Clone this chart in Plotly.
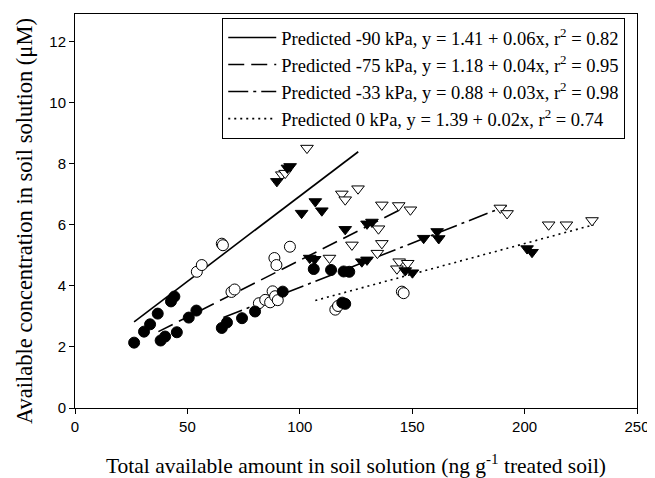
import plotly.graph_objects as go

# ---- data ----
filled_circle_x = [26.3, 30.7, 33.4, 36.8, 42.7, 44.2, 38.1, 40.1, 45.3, 50.6, 54.0, 65.3, 67.6, 74.3, 80.1,
                   92.4, 106.2, 113.9, 119.5, 122.0, 118.9, 120.2]
filled_circle_y = [2.14, 2.50, 2.74, 3.09, 3.49, 3.65, 2.21, 2.34, 2.48, 2.96, 3.19, 2.62, 2.80, 2.94, 3.16,
                   3.81, 4.55, 4.52, 4.47, 4.46, 3.45, 3.41]

open_circle_x = [54.2, 56.4, 65.3, 65.8, 69.6, 71.0, 81.8, 84.6, 86.8, 87.9, 89.0, 90.2, 88.7, 89.6, 95.6,
                 115.8, 117.0, 145.4, 146.2]
open_circle_y = [4.46, 4.68, 5.38, 5.33, 3.80, 3.88, 3.43, 3.54, 3.46, 3.82, 3.66, 3.53, 4.91, 4.68, 5.28,
                 3.22, 3.34, 3.81, 3.76]

filled_tri_x = [89.8, 94.5, 95.7, 100.8, 106.9, 109.8, 120.2, 129.9, 132.1, 104.4, 106.6, 127.6, 129.9,
                146.9, 150.1, 155.1, 161.1, 161.8, 201.1, 203.3]
filled_tri_y = [7.42, 7.86, 7.91, 6.38, 6.76, 6.46, 5.85, 6.03, 6.09, 4.91, 4.87, 4.79, 4.85,
                4.50, 4.43, 5.56, 5.78, 5.55, 5.22, 5.10]

open_tri_x = [103.2, 92.0, 93.5, 118.7, 120.2, 125.9, 136.5, 144.0, 149.2, 135.0, 123.2, 136.5, 134.5,
              113.2, 144.2, 148.0, 143.2, 189.2, 192.2, 210.7, 218.6, 230.0]
open_tri_y = [8.51, 7.64, 7.69, 7.01, 6.82, 7.18, 6.65, 6.63, 6.49, 5.87, 5.34, 5.39, 5.07,
              4.91, 4.79, 4.74, 4.56, 6.55, 6.37, 6.00, 6.00, 6.14]

line_names = ["Predicted -90 kPa, y = 1.41 + 0.06x, r<sup>2</sup> = 0.82",
              "Predicted -75 kPa, y = 1.18 + 0.04x, r<sup>2</sup> = 0.95",
              "Predicted -33 kPa, y = 0.88 + 0.03x, r<sup>2</sup> = 0.98",
              "Predicted 0 kPa, y = 1.39 + 0.02x, r<sup>2</sup> = 0.74"]
line_x = [[26.3, 126.0], [37.1, 146.2], [66.0, 192.0], [106.9, 230.8]]
line_y = [[2.82, 8.39], [2.50, 6.55], [2.96, 6.62], [3.52, 6.00]]
line_dash = ["solid", "16px,7px", "20px,5px,3px,5px", "2px,4px"]

x_ticks = [0, 50, 100, 150, 200, 250]
y_ticks = [0, 2, 4, 6, 8, 10, 12]

x_title = "Total available amount in soil solution (ng g<sup>-1</sup> treated soil)"
y_title = "Available concentration in soil solution (\u03bcM)"

fig = go.Figure()

for name, xs, ys, d in zip(line_names, line_x, line_y, line_dash):
    fig.add_trace(go.Scatter(x=xs, y=ys, mode="lines", name=name,
                             line=dict(color="black", width=1.6, dash=d)))

msize = 11
fig.add_trace(go.Scatter(x=open_circle_x, y=open_circle_y, mode="markers", showlegend=False,
                         marker=dict(symbol="circle", size=msize, color="white",
                                     line=dict(color="black", width=1))))
fig.add_trace(go.Scatter(x=filled_circle_x, y=filled_circle_y, mode="markers", showlegend=False,
                         marker=dict(symbol="circle", size=msize, color="black",
                                     line=dict(color="black", width=1))))
fig.add_trace(go.Scatter(x=open_tri_x, y=open_tri_y, mode="markers", showlegend=False,
                         marker=dict(symbol="triangle-down", size=msize, color="white",
                                     line=dict(color="black", width=1))))
fig.add_trace(go.Scatter(x=filled_tri_x, y=filled_tri_y, mode="markers", showlegend=False,
                         marker=dict(symbol="triangle-down", size=msize, color="black",
                                     line=dict(color="black", width=1))))

tickfont = dict(family="Liberation Sans, Arial, sans-serif", size=15, color="black")
serif = "Liberation Serif, Times New Roman, serif"

# the page body adds an 8px offset, so the figure is 8px smaller and margins shifted
fig.update_layout(
    width=647, height=470,
    margin=dict(l=67, r=18, t=6, b=70, autoexpand=False),
    paper_bgcolor="white", plot_bgcolor="white",
    showlegend=True,
    legend=dict(x=0.262, y=0.99, xanchor="left", yanchor="top",
                bgcolor="white", bordercolor="black", borderwidth=1,
                font=dict(family=serif, size=18.5, color="black"),
                tracegroupgap=0, itemwidth=48),
    xaxis=dict(range=[0, 250], tickvals=x_ticks, ticks="outside", ticklen=5, tickcolor="black",
               showline=True, linecolor="black", linewidth=1, mirror=True, automargin=False,
               showgrid=False, zeroline=False, tickfont=tickfont,
               title=dict(text=x_title, font=dict(family=serif, size=21.5, color="black"), standoff=25)),
    yaxis=dict(range=[0, 12.9], tickvals=y_ticks, ticks="outside", ticklen=5, tickcolor="black",
               showline=True, linecolor="black", linewidth=1, mirror=True, automargin=False,
               showgrid=False, zeroline=False, tickfont=tickfont),
    annotations=[dict(text=y_title, xref="paper", yref="paper", x=0, y=0.4746,
                      xanchor="center", yanchor="middle", xshift=-51, textangle=-90,
                      showarrow=False, font=dict(family=serif, size=22.5, color="black"))],
)

fig.write_html("out.html")
